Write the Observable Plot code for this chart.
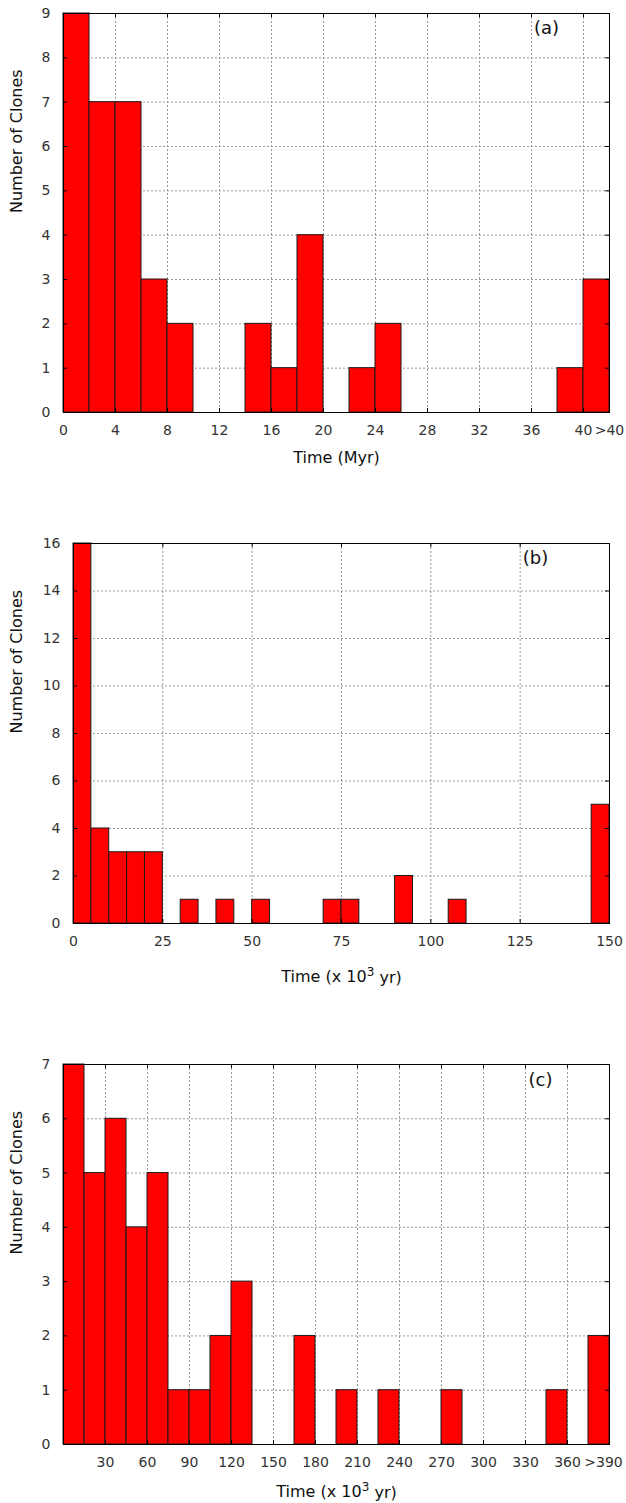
<!DOCTYPE html>
<html>
<head>
<meta charset="utf-8">
<script src="https://cdn.jsdelivr.net/npm/d3@7"></script>
<script src="https://cdn.jsdelivr.net/npm/@observablehq/plot@0.6"></script>
<style>
  html, body { margin: 0; padding: 0; background: white; }
  #chart svg { display: block; }
</style>
</head>
<body>
<div id="chart"></div>
<script>
// ---------- Panel (a): Time (Myr), bins of 2 Myr ----------
const aBinStart = [0, 2, 4, 6, 8, 14, 16, 18, 22, 24, 38, 40];
const aCount    = [9, 7, 7, 3, 2, 2, 1, 4, 1, 2, 1, 3];
const aBinWidth = 2;
const aXTicks   = [0, 4, 8, 12, 16, 20, 24, 28, 32, 36, 40, 42];
const aXLabels  = ["0", "4", "8", "12", "16", "20", "24", "28", "32", "36", "40", ">40"];
const aYTicks   = [0, 1, 2, 3, 4, 5, 6, 7, 8, 9];

// ---------- Panel (b): Time (x 10^3 yr), bins of 5 ----------
const bBinStart = [0, 5, 10, 15, 20, 30, 40, 50, 70, 75, 90, 105, 145];
const bCount    = [16, 4, 3, 3, 3, 1, 1, 1, 1, 1, 2, 1, 5];
const bBinWidth = 5;
const bXTicks   = [0, 25, 50, 75, 100, 125, 150];
const bXLabels  = ["0", "25", "50", "75", "100", "125", "150"];
const bYTicks   = [0, 2, 4, 6, 8, 10, 12, 14, 16];

// ---------- Panel (c): Time (x 10^3 yr), bins of 15 ----------
const cBinStart = [0, 15, 30, 45, 60, 75, 90, 105, 120, 165, 195, 225, 270, 345, 375];
const cCount    = [7, 5, 6, 4, 5, 1, 1, 2, 3, 2, 1, 1, 1, 1, 2];
const cBinWidth = 15;
const cXTicks   = [30, 60, 90, 120, 150, 180, 210, 240, 270, 300, 330, 360, 390];
const cXLabels  = ["30", "60", "90", "120", "150", "180", "210", "240", "270", "300", "330", "360", ">390"];
const cYTicks   = [0, 1, 2, 3, 4, 5, 6, 7];

const panelLabels = ["(a)", "(b)", "(c)"];
const xTitles = ["Time (Myr)", "Time (x 10\u00B3 yr)", "Time (x 10\u00B3 yr)"];
const yTitle = "Number of Clones";

function panel(cfg) {
  const {start, count, binWidth, xTicks, xLabels, yTicks, xDomain, yDomain,
         height, mt, mb, ml, mr, label, xTitle, xTitleDy, labelDx, labelDy, lastDx} = cfg;
  const width = 626;
  const innerW = width - ml - mr;
  const innerH = height - mt - mb;
  const bars = start.map((s, i) => ({x1: s, x2: s + binWidth, n: count[i]}));
  const fmt = new Map(xTicks.map((t, i) => [t, xLabels[i]]));
  const xGrid = xTicks.filter(t => t > xDomain[0] && t < xDomain[1]);
  const yGrid = yTicks.filter(t => t > yDomain[0] && t < yDomain[1]);
  const tickFont = {tickSize: 0, tickPadding: 13, label: null, fill: "#333"};
  const svg = Plot.plot({
    width, height,
    marginTop: mt, marginBottom: mb, marginLeft: ml, marginRight: mr,
    style: {fontFamily: "'DejaVu Sans', sans-serif", fontSize: "14px", color: "#222", background: "white"},
    x: {domain: xDomain},
    y: {domain: yDomain},
    marks: [
      Plot.gridX(xGrid, {stroke: "#999", strokeOpacity: 1, strokeDasharray: "2,2"}),
      Plot.gridY(yGrid, {stroke: "#999", strokeOpacity: 1, strokeDasharray: "2,2"}),
      Plot.rectY(bars, {x1: "x1", x2: "x2", y: "n", fill: "#ff0000", stroke: "#1a1a1a", strokeWidth: 1}),
      Plot.frame({stroke: "black", strokeWidth: 1}),
      // inward ticks on all four sides
      Plot.tickX(xGrid, {x: d => d, stroke: "black", insetTop: innerH - 4}),
      Plot.tickX(xGrid, {x: d => d, stroke: "black", insetBottom: innerH - 4}),
      Plot.tickY(yGrid, {y: d => d, stroke: "black", insetLeft: innerW - 4}),
      Plot.tickY(yGrid, {y: d => d, stroke: "black", insetRight: innerW - 4}),
      Plot.axisX(xTicks.slice(0, -1), {...tickFont, tickFormat: d => fmt.get(d)}),
      Plot.axisX(xTicks.slice(-1), {...tickFont, tickFormat: d => fmt.get(d), dx: lastDx}),
      Plot.axisY(yTicks, {...tickFont, tickFormat: d3.format("d")}),
      Plot.text([xTitle], {frameAnchor: "bottom", dy: xTitleDy, fontSize: 16, fill: "#111"}),
      Plot.text([yTitle], {frameAnchor: "left", rotate: -90, dx: -(ml - 16), fontSize: 16, fill: "#111"}),
      Plot.text([label], {frameAnchor: "top-right", dx: labelDx, dy: labelDy, fontSize: 18, textAnchor: "middle", fill: "#111"})
    ]
  });
  // render the "³" as a raised superscript, as in the original figure
  d3.select(svg).selectAll("text").each(function () {
    const t = this.textContent;
    if (this.childElementCount === 0 && t.includes("\u00B3")) {
      const [pre, post] = t.split("\u00B3");
      const sel = d3.select(this).text(null);
      sel.append("tspan").text(pre);
      sel.append("tspan").attr("dy", "-0.45em").attr("font-size", "12px").text("3");
      sel.append("tspan").attr("dy", "0.45em").text(post);
    }
  });
  return svg;
}

const root = document.getElementById("chart");
root.appendChild(panel({
  start: aBinStart, count: aCount, binWidth: aBinWidth, xTicks: aXTicks, xLabels: aXLabels, yTicks: aYTicks,
  xDomain: [0, 42], yDomain: [0, 9], height: 490, mt: 13, mb: 78, ml: 63, mr: 17,
  label: panelLabels[0], xTitle: xTitles[0], xTitleDy: 50, labelDx: -63, labelDy: 8, lastDx: 0
}));
root.appendChild(panel({
  start: bBinStart, count: bCount, binWidth: bBinWidth, xTicks: bXTicks, xLabels: bXLabels, yTicks: bYTicks,
  xDomain: [0, 150], yDomain: [0, 16], height: 520, mt: 53, mb: 87, ml: 73, mr: 17,
  label: panelLabels[1], xTitle: xTitles[1], xTitleDy: 58, labelDx: -74, labelDy: 8, lastDx: 0
}));
root.appendChild(panel({
  start: cBinStart, count: cCount, binWidth: cBinWidth, xTicks: cXTicks, xLabels: cXLabels, yTicks: cYTicks,
  xDomain: [0, 390], yDomain: [0, 7], height: 493, mt: 54, mb: 59, ml: 63, mr: 17,
  label: panelLabels[2], xTitle: xTitles[2], xTitleDy: 52, labelDx: -69, labelDy: 9, lastDx: -6
}));
</script>
</body>
</html>
